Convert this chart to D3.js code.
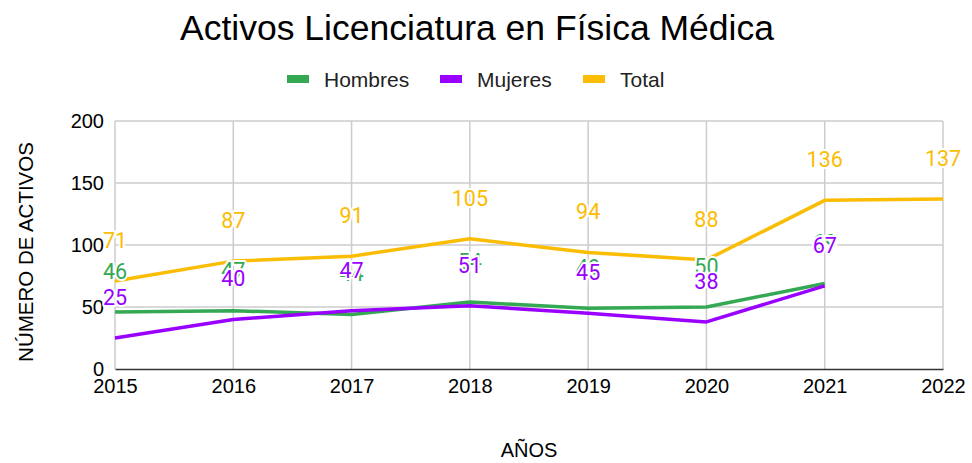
<!DOCTYPE html>
<html><head><meta charset="utf-8">
<script src="https://cdn.jsdelivr.net/npm/d3@7"></script>
<style>body{margin:0;background:#fff;}svg{display:block;}</style>
</head><body>
<svg id="c" width="972" height="463"></svg>
<script>
const years = ["2015","2016","2017","2018","2019","2020","2021","2022"];
const hombres = [46,47,44,54,49,50,69,null];
const mujeres = [25,40,47,51,45,38,67,null];
const total = [71,87,91,105,94,88,136,137];
const yTicks = [0,50,100,150,200];
const seriesNames = ["Hombres","Mujeres","Total"];
const colors = ["#34a853","#9900ff","#fbbc04"];

const svg = d3.select("#c");
const W=972,H=463;
const m={l:115,r:29,t:121,b:94};
const x=d3.scalePoint().domain(years).range([m.l,W-m.r]);
const y=d3.scaleLinear().domain([0,200]).range([H-m.b,m.t]);
const sans="Arial, 'Liberation Sans', sans-serif";
const rob="Roboto, sans-serif";

svg.append("text").attr("x",477).attr("y",40).attr("text-anchor","middle")
  .attr("font-family",sans).attr("font-size",35.5).attr("fill","#000").text("Activos Licenciatura en Física Médica");

// legend
const lgX=[287,440,583];
seriesNames.forEach((n,i)=>{
  const g=svg.append("g");
  g.append("rect").attr("x",lgX[i]).attr("y",75).attr("width",22).attr("height",8).attr("fill",colors[i]);
  g.append("text").attr("x",lgX[i]+37).attr("y",87).attr("font-family",sans).attr("font-size",21).attr("fill","#222").text(n);
});

// gridlines
svg.append("g").selectAll("line").data(yTicks.filter(d=>d>0)).join("line")
  .attr("x1",m.l).attr("x2",W-m.r).attr("y1",d=>y(d)).attr("y2",d=>y(d)).attr("stroke","#cccccc").attr("stroke-width",1.5);
svg.append("g").selectAll("line").data(years).join("line")
  .attr("x1",d=>x(d)).attr("x2",d=>x(d)).attr("y1",y(0)).attr("y2",y(200)).attr("stroke","#cccccc").attr("stroke-width",1.5);

// axes
const ya=d3.axisLeft(y).tickValues(yTicks).tickSize(0).tickPadding(11);
svg.append("g").attr("transform",`translate(${m.l},0)`).call(ya)
  .call(g=>g.select(".domain").remove())
  .selectAll("text").attr("font-family",sans).attr("font-size",20).attr("fill","#000");
const xa=d3.axisBottom(x).tickSize(0).tickPadding(10);
svg.append("g").attr("transform",`translate(0,${y(0)})`).call(xa)
  .call(g=>g.select(".domain").attr("stroke","#333").attr("stroke-width",1.5))
  .selectAll("text").attr("font-family",sans).attr("font-size",20).attr("fill","#000");

svg.append("text").attr("x",529).attr("y",457).attr("text-anchor","middle")
  .attr("font-family",sans).attr("font-size",20).attr("fill","#000").text("AÑOS");
svg.append("text").attr("transform",`translate(33,252) rotate(-90)`).attr("text-anchor","middle")
  .attr("font-family",sans).attr("font-size",20.5).attr("fill","#000").text("NÚMERO DE ACTIVOS");

const data=[hombres,mujeres,total];
const line=d3.line().defined(d=>d.v!=null).x(d=>x(d.k)).y(d=>y(d.v));
data.forEach((s,i)=>{
  const pts=years.map((k,j)=>({k,v:s[j]}));
  svg.append("path").datum(pts).attr("d",line).attr("fill","none").attr("stroke",colors[i]).attr("stroke-width",3.5).attr("stroke-linejoin","round");
});
data.forEach((s,i)=>{
  const pts=years.map((k,j)=>({k,v:s[j]})).filter(d=>d.v!=null);
  svg.append("g").selectAll("text").data(pts).join("text")
    .attr("x",d=>x(d.k)).attr("y",d=>y(d.v)-33).attr("text-anchor","middle")
    .attr("font-family",rob).attr("font-size",21.5).attr("fill",colors[i])
    .attr("stroke","#fff").attr("stroke-width",4).attr("paint-order","stroke").attr("stroke-linejoin","round")
    .text(d=>d.v);
});
</script>
</body></html>
